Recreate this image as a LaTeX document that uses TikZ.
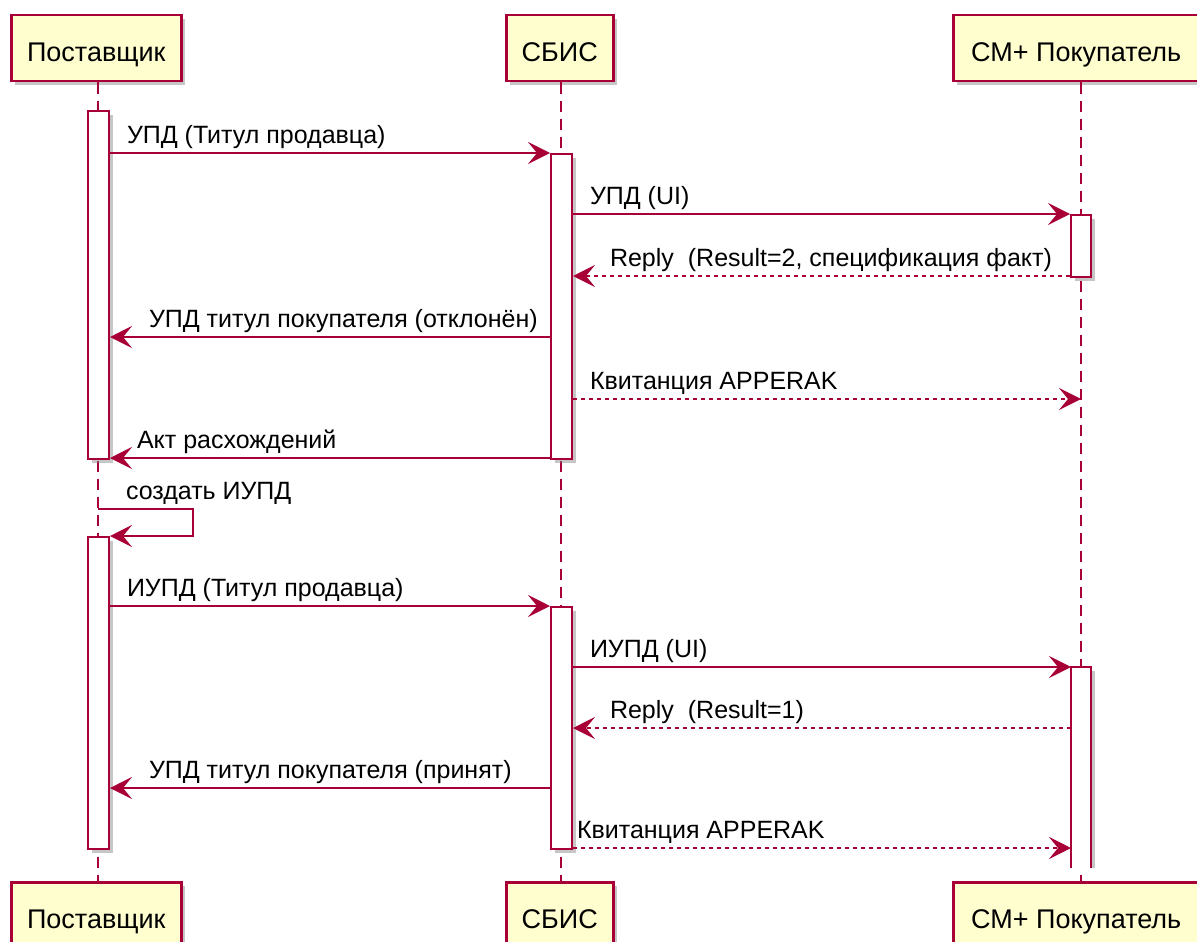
\documentclass[tikz,border=0pt]{standalone}
\usepackage{fontspec}
\setmainfont{Liberation Sans}
\usetikzlibrary{arrows.meta,shadows}
\definecolor{umlred}{RGB}{168,0,54}
\definecolor{umlbox}{RGB}{254,254,206}
\tikzset{
  part/.style={draw=umlred, line width=2.5pt, fill=umlbox, inner sep=0pt,
    text height=30pt, text depth=4pt,
    drop shadow={shadow xshift=4pt, shadow yshift=-4pt, fill=gray, opacity=0.45},
    font=\fontsize{27}{30}\selectfont},
  life/.style={draw=umlred, line width=1.5pt, dash pattern=on 11pt off 7pt},
  actbar/.style={draw=umlred, line width=2pt, fill=white, minimum width=21pt, inner sep=0pt,
    drop shadow={shadow xshift=4pt, shadow yshift=-4pt, fill=gray, opacity=0.45}},
  msg/.style={draw=umlred, line width=2pt, -{Stealth[length=22pt, width=22pt, inset=9pt]}},
  reply/.style={msg, dash pattern=on 4pt off 4pt},
  lbl/.style={anchor=base west, inner sep=0pt, font=\fontsize{25}{30}\selectfont}
}
\begin{document}
\begin{tikzpicture}[x=1pt,y=-1pt]
\useasboundingbox (0,0) rectangle (1197,942);
% lifeline x positions
\coordinate (Px) at (98,0);
\coordinate (Sx) at (561,0);
\coordinate (Cx) at (1081,0);
% participants (top)
\node[part, minimum width=170pt, minimum height=66pt, anchor=north west] (Pt) at (10,14) {Поставщик};
\node[part, minimum width=107pt, minimum height=66pt, anchor=north west] (St) at (505,14) {СБИС};
\node[part, minimum width=256pt, minimum height=66pt, anchor=north west] (Ct) at (952,14) {\hspace*{-10pt}СМ+ Покупатель};
% participants (bottom)
\node[part, minimum width=170pt, minimum height=66pt, anchor=north west] (Pb) at (10,881) {Поставщик};
\node[part, minimum width=107pt, minimum height=66pt, anchor=north west] (Sb) at (505,881) {СБИС};
\node[part, minimum width=256pt, minimum height=66pt, anchor=north west] (Cb) at (952,881) {\hspace*{-10pt}СМ+ Покупатель};
% lifelines
\draw[life] (Px |- Pt.south) -- (Px |- Pb.north);
\draw[life] (Sx |- St.south) -- (Sx |- Sb.north);
\draw[life] (Cx |- Ct.south) -- (Cx |- Cb.north);
% activation bars
\node[actbar, minimum height=348pt, anchor=north] (P1) at (98.5,110) {};
\node[actbar, minimum height=305pt, anchor=north] (S1) at (561.5,153) {};
\node[actbar, minimum width=20pt, minimum height=62pt, anchor=north] (C1) at (1081,214) {};
\node[actbar, minimum height=312pt, anchor=north] (P2) at (98.5,536) {};
\node[actbar, minimum height=242pt, anchor=north] (S2) at (561.5,606) {};
\fill[gray, opacity=0.45] (1091,671) rectangle (1095,868);
\fill[white] (1071,667) rectangle (1091,868);
\draw[umlred, line width=2pt] (1071,868) -- (1071,667) coordinate (C2) -- (1091,667) -- (1091,868);
% messages
\draw[msg] (P1.east |- 0,153) -- node[lbl, at start, xshift=16pt, yshift=10pt] {УПД (Титул продавца)} (S1.west |- 0,153);
\draw[msg] (S1.east |- 0,214) -- node[lbl, at start, xshift=16pt, yshift=10pt] {УПД (UI)} (C1.west |- 0,214);
\draw[reply] (C1.west |- 0,276) -- (S1.east |- 0,276) node[lbl, xshift=36pt, yshift=10pt] {Reply\hspace{14pt}(Result=2, спецификация факт)};
\draw[msg] (S1.west |- 0,337) -- (P1.east |- 0,337) node[lbl, xshift=38pt, yshift=10pt] {УПД титул покупателя (отклонён)};
\draw[reply] (S1.east |- 0,399) -- node[lbl, at start, xshift=16pt, yshift=10pt] {Квитанция APPERAK} (Cx |- 0,399);
\draw[msg] (S1.west |- 0,458) -- (P1.east |- 0,458) node[lbl, xshift=26pt, yshift=10pt] {Акт расхождений};
% self message
\coordinate (selfA) at (193,509);
\coordinate (selfB) at (193,536);
\draw[msg] (Px |- 0,509) node[lbl, xshift=27pt, yshift=10pt] {создать ИУПД} -- (selfA) -- (selfB) -- (P2.east |- 0,536);
\draw[msg] (P2.east |- 0,606) -- node[lbl, at start, xshift=16pt, yshift=10pt] {ИУПД (Титул продавца)} (S2.west |- 0,606);
\draw[msg] (S2.east |- 0,667) -- node[lbl, at start, xshift=16pt, yshift=10pt] {ИУПД (UI)} (C2);
\draw[reply] (C2 |- 0,728) -- (S2.east |- 0,728) node[lbl, xshift=36pt, yshift=10pt] {Reply\hspace{14pt}(Result=1)};
\draw[msg] (S2.west |- 0,788) -- (P2.east |- 0,788) node[lbl, xshift=38pt, yshift=10pt] {УПД титул покупателя (принят)};
\draw[reply] (S2.east |- 0,848) -- node[lbl, at start, xshift=3pt, yshift=10pt] {Квитанция APPERAK} (C2 |- 0,848);
\end{tikzpicture}
\end{document}
